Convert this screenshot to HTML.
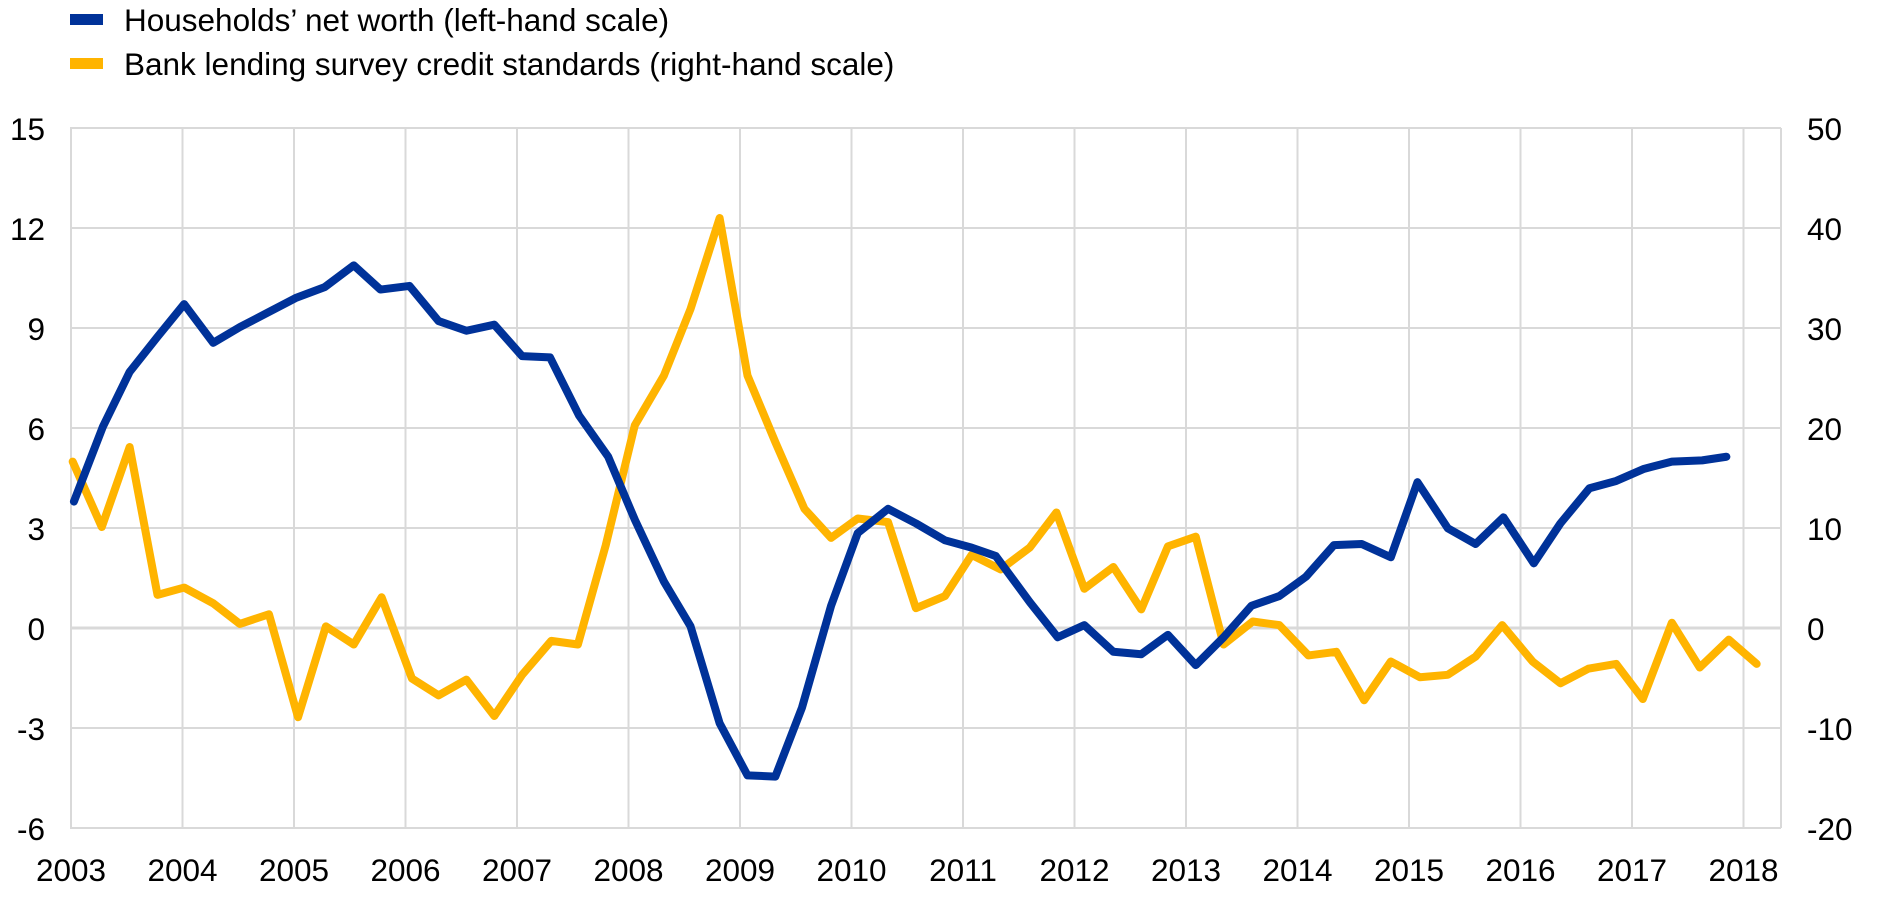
<!DOCTYPE html>
<html><head><meta charset="utf-8"><style>
html,body{margin:0;padding:0;background:#fff;}
svg{display:block;}
text{font-family:"Liberation Sans",Arial,sans-serif;font-size:31.5px;fill:#000;}
</style></head><body>
<svg width="1890" height="897" viewBox="0 0 1890 897" xmlns="http://www.w3.org/2000/svg">
<rect width="1890" height="897" fill="#fff"/>
<rect x="70" y="14" width="33" height="11" fill="#003299"/>
<text x="124" y="31">Households’ net worth (left-hand scale)</text>
<rect x="70" y="58" width="33" height="11" fill="#FFB400"/>
<text x="124" y="75">Bank lending survey credit standards (right-hand scale)</text>
<g stroke="#d9d9d9" stroke-width="2" fill="none">
<line x1="70" y1="128" x2="1781" y2="128"/>
<line x1="70" y1="228" x2="1781" y2="228"/>
<line x1="70" y1="328" x2="1781" y2="328"/>
<line x1="70" y1="428" x2="1781" y2="428"/>
<line x1="70" y1="528" x2="1781" y2="528"/>
<line x1="70" y1="728" x2="1781" y2="728"/>
<line x1="70" y1="828" x2="1781" y2="828"/>
<line x1="70" y1="628" x2="1781" y2="628" stroke-width="3"/>
<line x1="71" y1="128" x2="71" y2="828"/>
<line x1="182.5" y1="128" x2="182.5" y2="828"/>
<line x1="294" y1="128" x2="294" y2="828"/>
<line x1="405.5" y1="128" x2="405.5" y2="828"/>
<line x1="517" y1="128" x2="517" y2="828"/>
<line x1="628.5" y1="128" x2="628.5" y2="828"/>
<line x1="740" y1="128" x2="740" y2="828"/>
<line x1="851.5" y1="128" x2="851.5" y2="828"/>
<line x1="963" y1="128" x2="963" y2="828"/>
<line x1="1074.5" y1="128" x2="1074.5" y2="828"/>
<line x1="1186" y1="128" x2="1186" y2="828"/>
<line x1="1297.5" y1="128" x2="1297.5" y2="828"/>
<line x1="1409" y1="128" x2="1409" y2="828"/>
<line x1="1520.5" y1="128" x2="1520.5" y2="828"/>
<line x1="1632" y1="128" x2="1632" y2="828"/>
<line x1="1743.5" y1="128" x2="1743.5" y2="828"/>
<line x1="1781" y1="128" x2="1781" y2="828"/>
</g>
<g text-anchor="end">
<text x="45" y="140">15</text><text x="45" y="240">12</text><text x="45" y="340">9</text>
<text x="45" y="440">6</text><text x="45" y="540">3</text><text x="45" y="640">0</text>
<text x="45" y="740">-3</text><text x="45" y="840">-6</text>
</g>
<g text-anchor="start">
<text x="1807" y="140">50</text><text x="1807" y="240">40</text><text x="1807" y="340">30</text>
<text x="1807" y="440">20</text><text x="1807" y="540">10</text><text x="1807" y="640">0</text>
<text x="1807" y="740">-10</text><text x="1807" y="840">-20</text>
</g>
<g text-anchor="middle">
<text x="71" y="881">2003</text><text x="182.5" y="881">2004</text><text x="294" y="881">2005</text>
<text x="405.5" y="881">2006</text><text x="517" y="881">2007</text><text x="628.5" y="881">2008</text>
<text x="740" y="881">2009</text><text x="851.5" y="881">2010</text><text x="963" y="881">2011</text>
<text x="1074.5" y="881">2012</text><text x="1186" y="881">2013</text><text x="1297.5" y="881">2014</text>
<text x="1409" y="881">2015</text><text x="1520.5" y="881">2016</text><text x="1632" y="881">2017</text>
<text x="1743.5" y="881">2018</text>
</g>
<g transform="scale(1.2115)" fill="none" stroke-width="6.6" stroke-linejoin="round" stroke-linecap="round">
<polyline stroke="#FFB400" points="60,381 84,435 107,369 130,491 152,485 176,498 198,515 222,507 246,592 269,517 292,532 315,493 340,560 362,574 385,561 408,591 431,557 455,529 477,532 500,450 524,351 548,310 570,255 594,180 617,310 640,365 664,420 686,444 708,428 733,431 756,502 780,492 802,458 826,470 850,452 872,423 895,486 919,468 942,503 964,451 987,443 1010,532 1034,513 1056,516 1080,541 1103,538 1126,578 1148,546 1172,559 1195,557 1218,542 1240,516 1265,546 1288,564 1311,552 1334,548 1356,577 1380,514 1403,551 1427,528 1450,548"/>
<polyline stroke="#003299" points="61,414 85,352 107,307 130,278 152,251 176,283 198,270 221,258 244,246 268,237 292,219 314,239 338,236 362,265 385,273 408,268 431,294 454,295 478,343 502,377 524,429 548,480 570,517 594,597 617,640 640,641 662,584 686,500 708,440 733,420 756,432 780,446 802,452 822,459 850,497 873,526 895,516 919,538 942,540 964,524 987,549 1010,526 1033,500 1056,492 1078,476 1101,450 1124,449 1148,460 1170,398 1195,436 1218,449 1241,427 1266,465 1288,432 1312,403 1334,397 1357,387 1380,381 1405,380 1425,377"/>
</g>
</svg>
</body></html>
